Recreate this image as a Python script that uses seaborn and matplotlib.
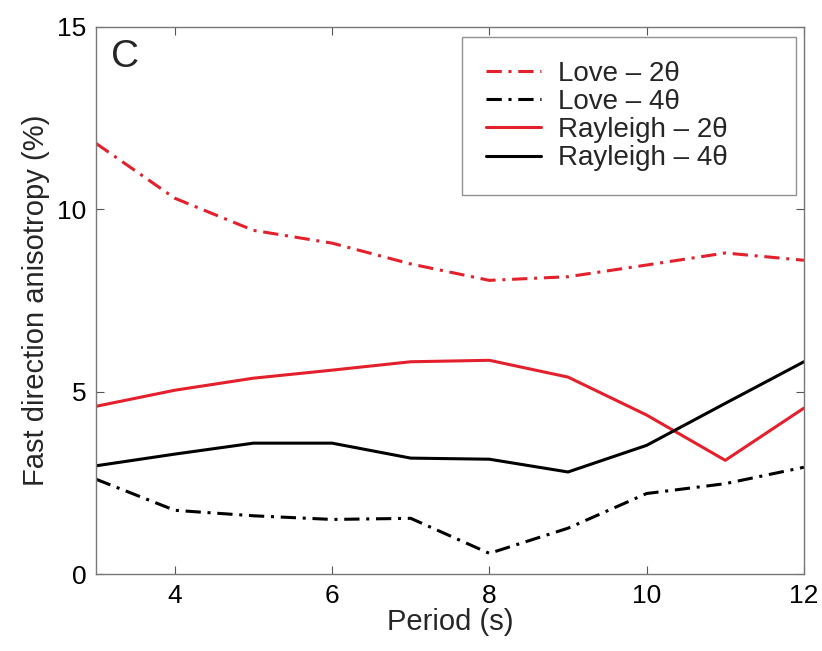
import matplotlib
matplotlib.use("Agg")
import matplotlib.pyplot as plt
import seaborn as sns
import pandas as pd

period = [3, 4, 5, 6, 7, 8, 9, 10, 11, 12]
love_2theta = [11.8, 10.3, 9.42, 9.07, 8.5, 8.05, 8.15, 8.47, 8.8, 8.6]
love_4theta = [2.6, 1.75, 1.6, 1.5, 1.53, 0.57, 1.26, 2.21, 2.48, 2.93]
rayleigh_2theta = [4.6, 5.04, 5.37, 5.59, 5.82, 5.86, 5.4, 4.36, 3.12, 4.55]
rayleigh_4theta = [2.97, 3.29, 3.59, 3.59, 3.18, 3.15, 2.8, 3.53, 4.68, 5.82]
series_names = ["Love \u2013 2\u03b8", "Love \u2013 4\u03b8", "Rayleigh \u2013 2\u03b8", "Rayleigh \u2013 4\u03b8"]

frames = []
for name, vals in zip(series_names, [love_2theta, love_4theta, rayleigh_2theta, rayleigh_4theta]):
    frames.append(pd.DataFrame({"Period": period, "Value": vals, "Series": name}))
df = pd.concat(frames, ignore_index=True)

sns.set_theme(style="white")
plt.rcParams['font.family'] = ['Liberation Sans', 'DejaVu Sans']

red = "#e3202b"
palette = {series_names[0]: red, series_names[1]: "black",
           series_names[2]: red, series_names[3]: "black"}
dashes = {series_names[0]: (5, 2.2, 1, 2.2), series_names[1]: (5, 2.2, 1, 2.2),
          series_names[2]: "", series_names[3]: ""}

fig = plt.figure(figsize=(8.22, 6.51), dpi=100)
ax = fig.add_axes([0.117, 0.118, 0.861, 0.841])
sns.lineplot(data=df, x="Period", y="Value", hue="Series", style="Series",
             palette=palette, dashes=dashes, hue_order=series_names,
             style_order=series_names, linewidth=2.2, ax=ax)

ax.set_xlim(3, 12)
ax.set_ylim(0, 15)
ax.set_xticks([4, 6, 8, 10, 12])
ax.set_yticks([0, 5, 10, 15])
ax.tick_params(direction="in", length=6, width=0.8, colors="#555555",
               labelcolor="black", labelsize=19, top=True, right=True,
               left=True, bottom=True, pad=7)
for sp in ax.spines.values():
    sp.set_color("#777777")
    sp.set_linewidth(1.0)
ax.set_xlabel("Period (s)", fontsize=21, labelpad=0)
ax.set_ylabel("Fast direction anisotropy (%)", fontsize=21, labelpad=5)

handles, labels = ax.get_legend_handles_labels()
leg = ax.legend(handles, labels, loc="upper left", fontsize=20, frameon=True,
                fancybox=False, edgecolor="#777777", handlelength=2.0,
                handletextpad=0.6, labelspacing=0.08, borderpad=0.85,
                bbox_to_anchor=(0.517, 0.0, 0.472, 0.981), mode="expand",
                borderaxespad=0.0)
leg.get_frame().set_linewidth(1.0)

ax.text(0.021, 0.978, "C", transform=ax.transAxes, fontsize=28, va="top", ha="left")

fig.savefig("out.png", dpi=100)
